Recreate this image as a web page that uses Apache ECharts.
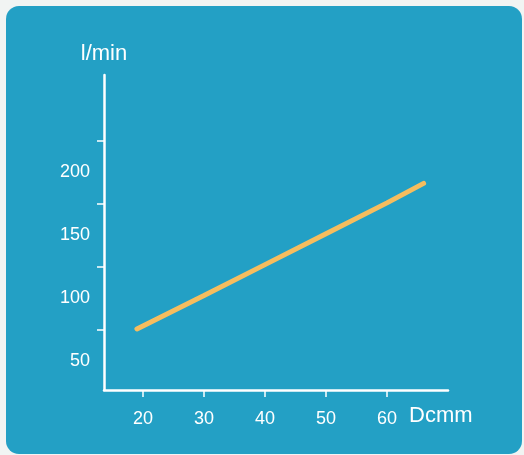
<!DOCTYPE html>
<html>
<head>
<meta charset="utf-8">
<script src="https://cdn.jsdelivr.net/npm/echarts@6/dist/echarts.min.js"></script>
<style>
  html, body { margin: 0; padding: 0; background: #f1f4f3; }
  #panel { position: absolute; left: 6px; top: 6px; width: 516px; height: 448px;
           background: #23a0c5; border-radius: 13px; }
  #chart { position: absolute; left: 0; top: 0; width: 524px; height: 455px; }
</style>
</head>
<body>
<div id="panel"></div>
<div id="chart"></div>
<script>
// Data
const diameterMm = [19, 30, 40, 50, 60, 66];
const flowLpm   = [75.5, 102, 126.5, 151, 175.5, 191];
const xTickLabels = [20, 30, 40, 50, 60];
const yTickLabels = [50, 100, 150, 200];
const yTickMarks  = [75, 125, 175, 225];

const chart = echarts.init(document.getElementById('chart'), null, { renderer: 'canvas' });
const font = '"Liberation Sans", Arial, Helvetica, sans-serif';

chart.setOption({
  backgroundColor: 'transparent',
  animation: false,
  grid: { left: 104, top: 75, right: 76, bottom: 65, containLabel: false },
  xAxis: {
    type: 'value',
    min: 13.6, max: 70,
    name: 'Dcmm',
    nameLocation: 'end',
    nameGap: -39,
    nameTextStyle: { color: '#ffffff', fontSize: 22, fontFamily: font,
                     verticalAlign: 'top', align: 'left', padding: [15, 0, 0, 0] },
    axisLine: { show: true, onZero: false, lineStyle: { color: '#ffffff', width: 2.5 } },
    axisTick: { show: true, inside: false, length: 7, customValues: xTickLabels,
                lineStyle: { color: '#ffffff', width: 1.5 } },
    axisLabel: { show: true, customValues: xTickLabels, margin: 20, color: '#ffffff',
                 fontSize: 18, fontFamily: font },
    splitLine: { show: false }
  },
  yAxis: {
    type: 'value',
    min: 27, max: 277,
    name: 'l/min',
    nameLocation: 'end',
    nameGap: 10,
    nameTextStyle: { color: '#ffffff', fontSize: 22, fontFamily: font, align: 'center' },
    axisLine: { show: true, onZero: false, lineStyle: { color: '#ffffff', width: 2.5 } },
    axisTick: { show: true, inside: false, length: 7, customValues: yTickMarks,
                lineStyle: { color: '#ffffff', width: 1.5 } },
    axisLabel: { show: true, customValues: yTickLabels, margin: 14, color: '#ffffff',
                 fontSize: 18, fontFamily: font },
    splitLine: { show: false }
  },
  series: [{
    type: 'line',
    data: diameterMm.map((d, i) => [d, flowLpm[i]]),
    showSymbol: false,
    symbol: 'none',
    lineStyle: { color: '#f6bd5e', width: 5, cap: 'round' },
    smooth: false
  }]
});
</script>
</body>
</html>
